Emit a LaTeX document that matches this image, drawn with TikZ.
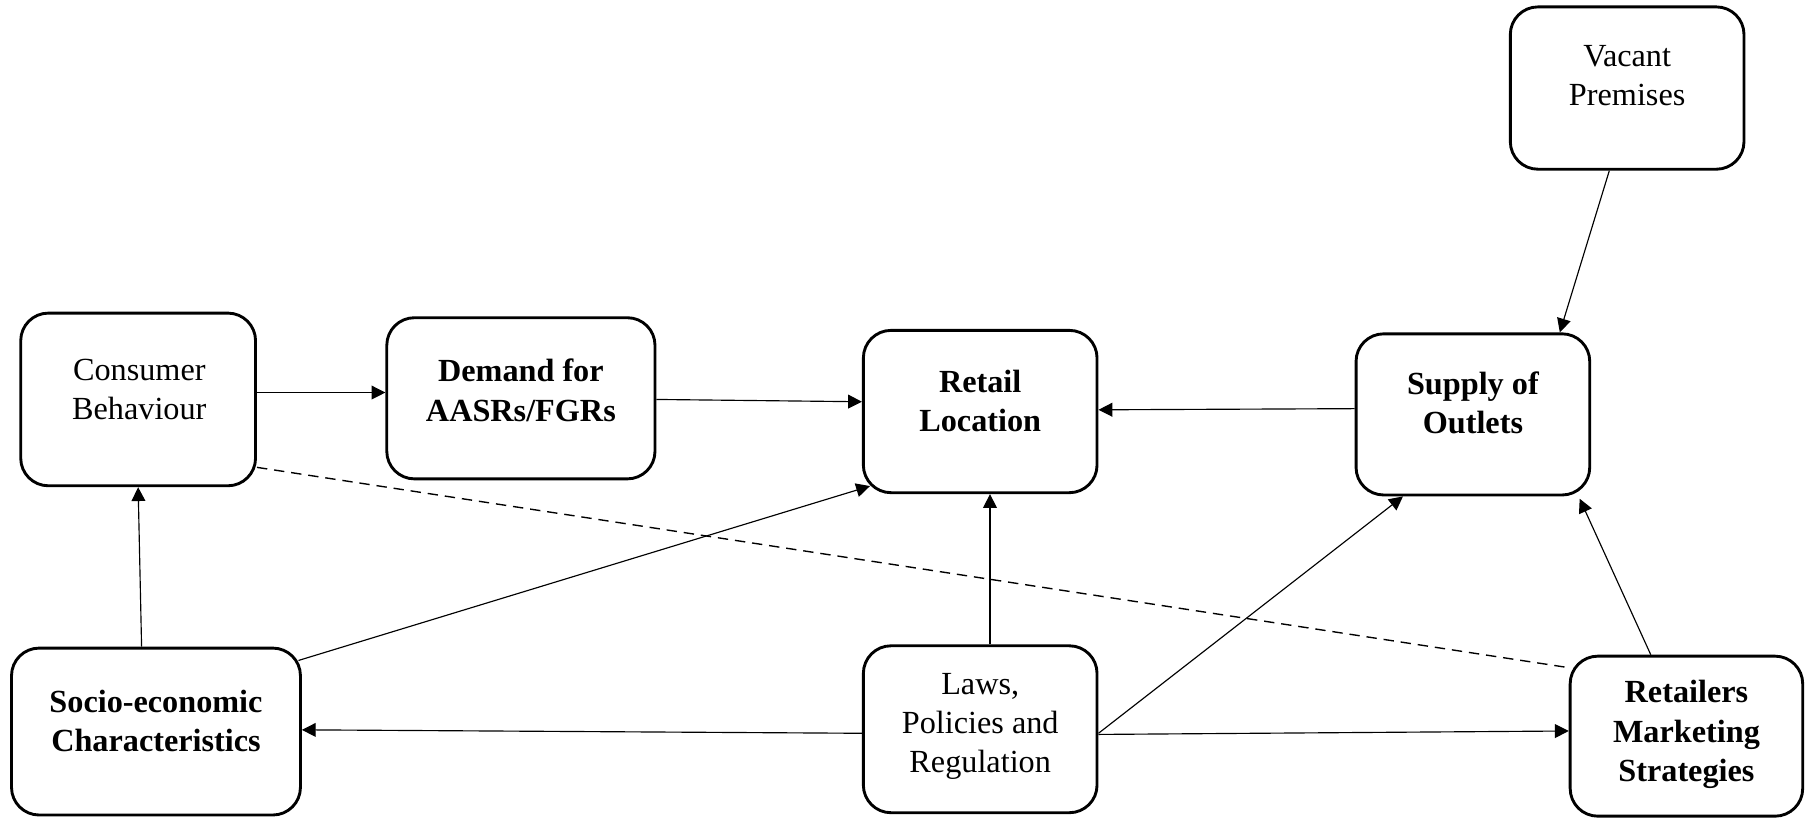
\documentclass[tikz,border=0pt]{standalone}
\usepackage{fontspec}
\setmainfont{Liberation Serif}
\usetikzlibrary{arrows.meta}
\begin{document}
\begin{tikzpicture}[x=0.5pt,y=-0.5pt,
  box/.style={draw, rounded corners=12pt, line width=1.25pt, inner sep=0pt},
  lbl/.style={align=center, inner sep=0pt, font=\fontsize{14}{17}\selectfont},
  blbl/.style={align=center, inner sep=0pt, font=\fontsize{14}{17}\selectfont\bfseries},
  arr/.style={-{Triangle[length=6pt,width=6pt]}, line width=0.5pt},
  dash line/.style={line width=0.6pt, dash pattern=on 4.5pt off 3pt}]
\useasboundingbox (0,0) rectangle (1568,711);
% boxes
\node[box, minimum width=101.5pt, minimum height=70.5pt] (vp) at (1413.5,76.5) {};
\node[box, minimum width=102pt, minimum height=75pt] (cb) at (120,347) {};
\node[box, minimum width=116.5pt, minimum height=70pt] (dm) at (452.5,346) {};
\node[box, minimum width=101.5pt, minimum height=70.5pt] (rl) at (851.5,357.5) {};
\node[box, minimum width=101.5pt, minimum height=70pt] (sp) at (1279.5,360) {};
\node[box, minimum width=125.5pt, minimum height=72.5pt] (se) at (135.5,635.5) {};
\node[box, minimum width=101.5pt, minimum height=72.5pt] (lw) at (851.5,633.5) {};
\node[box, minimum width=101pt, minimum height=69.5pt] (rm) at (1465,639.5) {};
% texts
\node[lbl] (vpt) at (1413.5,66) {Vacant\\Premises};
\node[lbl] (cbt) at (121,338) {Consumer\\Behaviour};
\node[blbl] (dmt) at (452.5,339) {Demand for\\AASRs/FGRs};
\node[blbl] (rlt) at (851.5,348) {Retail\\Location};
\node[blbl] (spt) at (1279.5,350) {Supply of\\Outlets};
\node[blbl] (set) at (135.5,626) {Socio-economic\\Characteristics};
\node[lbl] (lwt) at (851.5,631) {Laws,\\Policies and\\Regulation};
\node[blbl] (rmt) at (1465,638) {Retailers\\Marketing\\Strategies};
% connectors
\draw[arr] (cb.east |- 0,341) -- (dm.west |- 0,341);
\draw[arr] (dm.east |- 0,347) -- (rl.west |- 0,349);
\draw[arr] (sp.west |- 0,355) -- (rl.east |- 0,356);
\draw[arr] (vp.south -| 1398,0) -- (sp.north -| 1355,0);
\draw[arr] (se.north -| 123,0) -- (cb.south -| 120,0);
\draw[arr] ([shift={(-3,12)}]se.north east) -- ([shift={(7,-7)}]rl.south west);
\draw[arr] (lw.north -| 860,0) -- (rl.south -| 860,0);
\draw[arr] (lw.west |- 0,637) -- (se.east |- 0,634);
\draw[arr] (lw.east |- 0,638) -- (rm.west |- 0,635);
\draw[arr] (lw.east |- 0,637) -- ([shift={(42,0)}]sp.south west);
\draw[arr] (rm.north -| 1434,0) -- ([shift={(-10,2)}]sp.south east);
\draw[dash line] (cb.east |- 0,406) -- (rm.west |- 0,580);
\end{tikzpicture}
\end{document}
